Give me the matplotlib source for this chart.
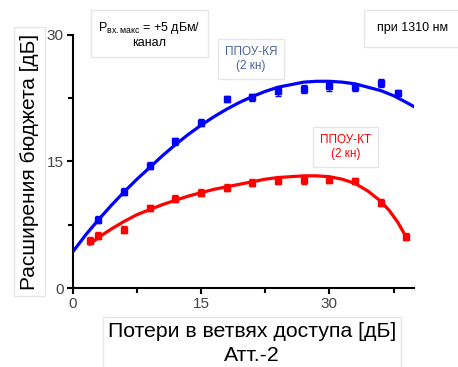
import matplotlib
matplotlib.use("Agg")
import matplotlib.pyplot as plt
from matplotlib.ticker import MultipleLocator

plt.rcParams['font.family'] = ['Liberation Sans', 'DejaVu Sans']
plt.rcParams['mathtext.fontset'] = 'custom'
plt.rcParams['mathtext.rm'] = 'Liberation Sans'
plt.rcParams['mathtext.it'] = 'Liberation Sans'

# Measured points
kya_x = [3, 6, 9, 12, 15, 18, 21, 24, 27, 30, 33, 36, 38]
kya_y = [8.1, 11.4, 14.5, 17.4, 19.6, 22.4, 22.6, 23.3, 23.6, 23.9, 23.8, 24.3, 23.1]
kya_err = [0.4, 0.4, 0.4, 0.4, 0.4, 0.4, 0.4, 0.5, 0.5, 0.5, 0.4, 0.5, 0.4]

kt_x = [2, 3, 6, 9, 12, 15, 18, 21, 24, 27, 30, 33, 36, 39]
kt_y = [5.6, 6.2, 6.9, 9.5, 10.6, 11.3, 11.9, 12.5, 12.7, 12.8, 12.8, 12.7, 10.1, 6.1]
kt_err = [0.4, 0.4, 0.4, 0.4, 0.4, 0.4, 0.4, 0.4, 0.4, 0.5, 0.4, 0.4, 0.4, 0.4]

# Fitted curves
kya_fit_x = [0, 1.5, 3, 4.5, 6, 7.5, 9, 10.5, 12, 13.5, 15, 16.5, 18, 19.5, 21, 22.5, 24,
             25.5, 27, 28.5, 30, 31.5, 33, 34.5, 36, 37.5, 39, 39.9]
kya_fit_y = [4.3, 6.3, 8.1, 9.8, 11.4, 12.9, 14.3, 15.7, 17.0, 18.2, 19.3, 20.3, 21.2, 22.0,
             22.7, 23.3, 23.8, 24.1, 24.4, 24.5, 24.5, 24.4, 24.2, 23.8, 23.4, 22.8, 22.0, 21.5]

kt_fit_x = [2, 3, 4.5, 6, 7.5, 9, 10.5, 12, 13.5, 15, 16.5, 18, 19.5, 21, 22.5, 24, 25.5,
            27, 28.5, 30, 31.5, 33, 34.5, 36, 37, 38, 39]
kt_fit_y = [5.2, 6.0, 7.0, 7.9, 8.7, 9.3, 9.9, 10.4, 10.9, 11.3, 11.7, 12.0, 12.3, 12.6,
            12.9, 13.1, 13.2, 13.3, 13.3, 13.2, 12.9, 12.4, 11.5, 10.3, 9.2, 7.8, 6.0]

blue = '#0000ff'
red = '#ff0000'

fig = plt.figure(figsize=(4.58, 3.67), dpi=100)
ax = fig.add_axes([0.159, 0.215, 0.745, 0.69])

ax.plot(kya_fit_x, kya_fit_y, color=blue, lw=2.3, zorder=3)
ax.plot(kt_fit_x, kt_fit_y, color=red, lw=2.3, zorder=3)
ax.errorbar(kya_x, kya_y, yerr=kya_err, fmt='s', color=blue, ms=4, capsize=2.2,
            elinewidth=1, capthick=1, zorder=4)
ax.errorbar(kt_x, kt_y, yerr=kt_err, fmt='s', color=red, ms=4, capsize=2.2,
            elinewidth=1, capthick=1, zorder=4)

ax.set_xlim(0, 39.9)
ax.set_ylim(0, 30)
ax.xaxis.set_major_locator(MultipleLocator(15))
ax.xaxis.set_minor_locator(MultipleLocator(7.5))
ax.yaxis.set_major_locator(MultipleLocator(15))
ax.yaxis.set_minor_locator(MultipleLocator(7.5))
for s in ['top', 'right']:
    ax.spines[s].set_visible(False)
for s in ['left', 'bottom']:
    ax.spines[s].set_linewidth(1.5)
ax.tick_params(which='major', direction='out', length=4.5, width=1.5,
               labelsize=11, labelcolor='#444444', pad=2)
ax.tick_params(which='minor', direction='out', length=3.3, width=1.5)

ax.set_xlabel('Потери в ветвях доступа [дБ]\nАтт.-2', fontsize=15.3, labelpad=8,
              linespacing=1.35,
              bbox=dict(boxstyle='square,pad=0.25', fc='white', ec='#e6e6e6', lw=1))
ax.xaxis.label.set_x(0.525)
ax.set_ylabel('Расширения бюджета [дБ]', fontsize=15, labelpad=5.5,
              bbox=dict(boxstyle='square,pad=0.3', fc='white', ec='#e6e6e6', lw=1))

fig.text(0.326, 0.906, 'P$_{\\mathrm{вх.макс}}$ = +5 дБм/\nканал', fontsize=9,
         ha='center', va='center', linespacing=1.15,
         bbox=dict(boxstyle='square,pad=0.6', fc='white', ec='#e6e6e6', lw=1))
fig.text(0.9, 0.923, 'при 1310 нм', fontsize=9, ha='center', va='center',
         bbox=dict(boxstyle='square,pad=1.0', fc='white', ec='#e6e6e6', lw=1))
fig.text(0.548, 0.84, 'ППОУ-КЯ\n(2 кн)', fontsize=8.5, ha='center', va='center',
         color='#4a6298', linespacing=1.2,
         bbox=dict(boxstyle='square,pad=0.6', fc='white', ec='#e6e6e6', lw=1))
fig.text(0.755, 0.6, 'ППОУ-КТ\n(2 кн)', fontsize=8.5, ha='center', va='center',
         color=red, linespacing=1.2,
         bbox=dict(boxstyle='square,pad=0.6', fc='white', ec='#e6e6e6', lw=1))

fig.savefig('out.png', dpi=100)
